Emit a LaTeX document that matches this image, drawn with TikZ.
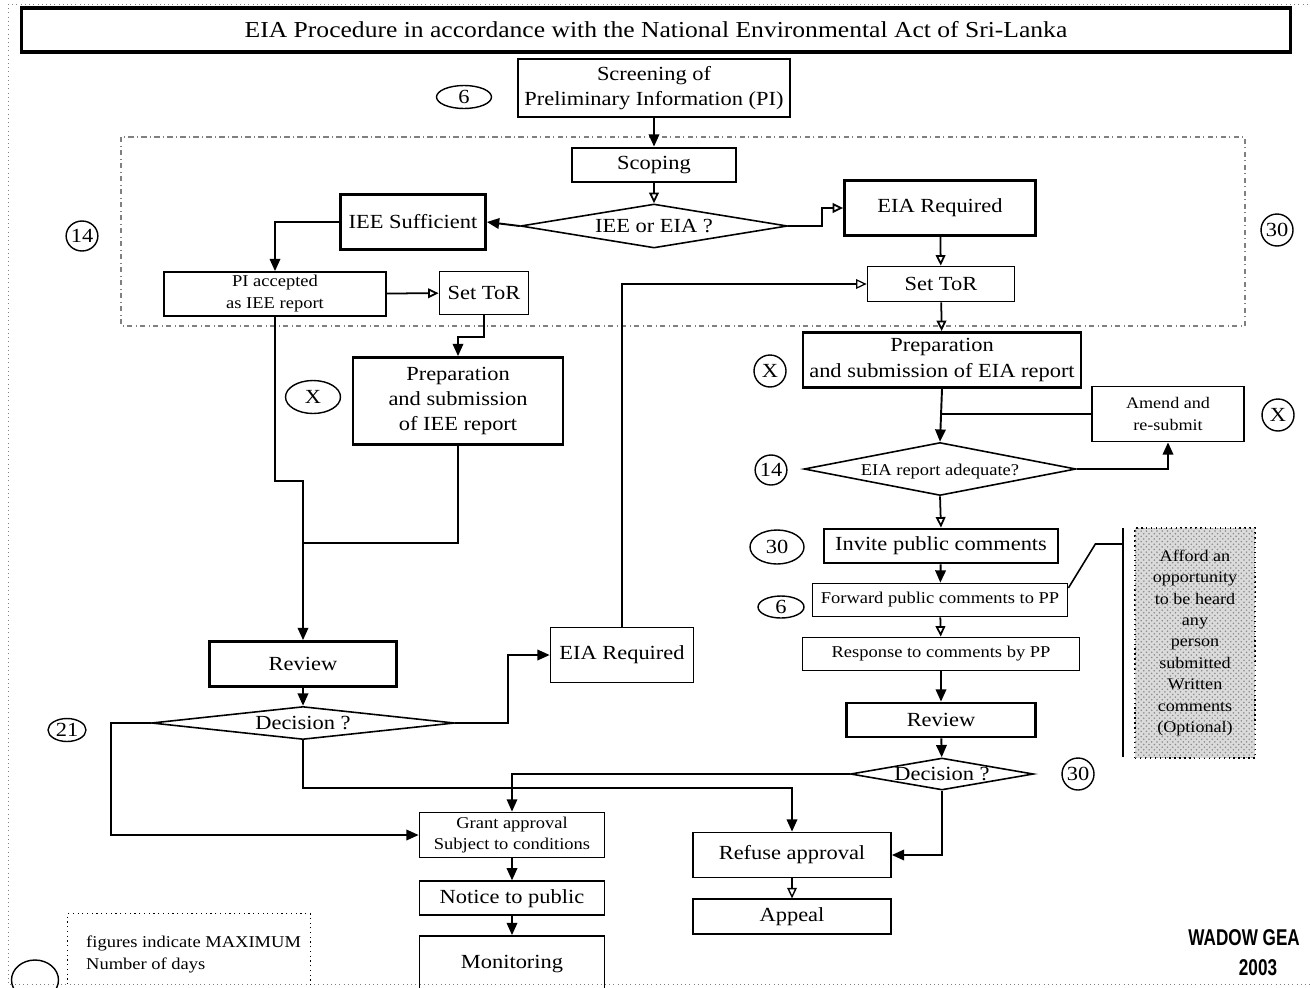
\documentclass[tikz,border=0pt]{standalone}
\usepackage{fontspec}
\setmainfont{Liberation Serif}[FakeStretch=1.12]
\newfontfamily\stampfont{Liberation Sans}[FakeStretch=0.75]
\usetikzlibrary{arrows.meta,shapes.geometric,positioning,patterns}

\tikzset{
  procbox/.style={draw, line width=1pt, inner sep=1pt, align=center, font=\fontsize{11.4}{14.5}\selectfont},
  mainbox/.style={procbox, line width=1.6pt},
  smallbox/.style={procbox, font=\fontsize{9.4}{12.5}\selectfont},
  decide/.style={diamond, draw, line width=.9pt, inner sep=0pt, align=center,
    text height=.7em, text depth=0pt, font=\fontsize{11.4}{13}\selectfont},
  days/.style={ellipse, draw, line width=.8pt, inner sep=0pt, font=\fontsize{11.4}{13}\selectfont},
  flow/.style={line width=1.1pt, -{Triangle[length=7pt,width=6pt]}},
  flowopen/.style={line width=1pt, -{Triangle[open,length=6pt,width=5.5pt]}},
  joinline/.style={line width=1.1pt},
}

\begin{document}
\begin{tikzpicture}[x=0.02cm, y=-0.02cm]
\useasboundingbox (0,0) rectangle (1310,987);
\draw[dotted, gray] (8,4) rectangle (1318,984);

% heading
\node[draw, line width=1.8pt, minimum width=25.4cm, minimum height=0.88cm, font=\fontsize{13}{15}\selectfont] (title) at (656,30) {EIA Procedure in accordance with the National Environmental Act of Sri-Lanka};

% screening and scoping
\node[mainbox, minimum width=5.44cm, minimum height=1.16cm] (screen) at (654,88) {Screening of\\Preliminary Information (PI)};
\node[days, minimum width=1.1cm, minimum height=0.46cm] (d6a) at (464,97) {6};
\draw[dash dot, gray, line width=.6pt] (121,137) rectangle (1245,326);
\node[mainbox, minimum width=3.28cm, minimum height=0.68cm] (scoping) at (654,165) {Scoping};
\node[decide, aspect=6.07, minimum width=5.34cm, minimum height=0.88cm] (ieeoreia) at (654,226) {IEE or EIA ?};
\node[mainbox, minimum width=2.9cm, minimum height=1.1cm] (ieesuff) at (413,222) {IEE Sufficient};
\node[mainbox, minimum width=3.82cm, minimum height=1.1cm] (eiareq) at (940,208) {EIA Required};
\node[days, minimum width=0.6cm, minimum height=0.6cm] (d14a) at (82,236) {14};
\node[days, minimum width=0.64cm, minimum height=0.64cm] (d30a) at (1277,230) {30};

% IEE branch
\node[smallbox, minimum width=4.44cm, minimum height=0.88cm] (piacc) at (275,294) {PI accepted\\as IEE report};
\node[procbox, minimum width=1.78cm, minimum height=0.86cm] (torA) at (484,293) {Set ToR};
\node[mainbox, minimum width=4.2cm, minimum height=1.74cm] (prepiee) at (458,401) {Preparation\\and submission\\of IEE report};
\node[days, minimum width=1.1cm, minimum height=0.66cm] (dxa) at (313,397) {X};

% EIA branch
\node[procbox, minimum width=2.94cm, minimum height=0.7cm] (torB) at (941,284) {Set ToR};
\node[mainbox, minimum width=5.56cm, minimum height=1.1cm] (prepeia) at (942,360) {Preparation\\and submission of EIA report};
\node[days, minimum width=0.64cm, minimum height=0.64cm] (dxb) at (770,371) {X};
\node[procbox, font=\fontsize{9.2}{13}\selectfont, minimum width=3.04cm, minimum height=1.1cm] (amend) at (1168,414) {Amend and\\re-submit};
\node[days, minimum width=0.64cm, minimum height=0.64cm] (dxc) at (1278,415) {X};
\node[decide, aspect=5.13, font=\fontsize{9.4}{12}\selectfont, minimum width=5.44cm, minimum height=1.06cm] (adequate) at (940,469) {EIA report adequate?};
\node[days, minimum width=0.6cm, minimum height=0.6cm] (d14b) at (771,470) {14};
\node[mainbox, minimum width=4.68cm, minimum height=0.68cm] (invite) at (941,546) {Invite public comments};
\node[days, minimum width=1.08cm, minimum height=0.68cm] (d30b) at (777,547) {30};
\node[smallbox, minimum width=5.1cm, minimum height=0.66cm] (forward) at (940,600) {Forward public comments to PP};
\node[days, minimum width=0.92cm, minimum height=0.44cm] (d6b) at (781,607) {6};
\node[smallbox, minimum width=5.54cm, minimum height=0.66cm] (response) at (941,654) {Response to comments by PP};
\node[mainbox, minimum width=3.78cm, minimum height=0.68cm] (reviewB) at (941,720) {Review};
\node[decide, aspect=5.72, minimum width=3.66cm, minimum height=0.64cm] (decisionB) at (942,774) {Decision ?};
\node[days, minimum width=0.64cm, minimum height=0.64cm] (d30c) at (1078,774) {30};
\node[draw, dotted, line width=.8pt, fill=gray!28, postaction={pattern=crosshatch dots, pattern color=gray!90},
      minimum width=2.4cm, minimum height=4.6cm, align=center, font=\fontsize{9.2}{12.2}\selectfont] (afford) at (1195,643)
      {Afford an\\opportunity\\to be heard\\any\\person\\submitted\\Written\\comments\\(Optional)};
\coordinate (bartop) at (1123,528);
\coordinate (barmid) at (1123,544);
\coordinate (barbot) at (1123,757);

% review of IEE
\node[mainbox, minimum width=3.74cm, minimum height=0.9cm] (reviewA) at (303,664) {Review};
\node[decide, aspect=9.18, minimum width=6.06cm, minimum height=0.66cm] (decisionA) at (303,723) {Decision ?};
\node[days, minimum width=0.76cm, minimum height=0.46cm] (d21) at (67,730) {21};
\node[procbox, minimum width=2.86cm, minimum height=1.1cm] (eiareqB) at (622,655) {EIA Required};
\coordinate (ieejoin) at (303,543);

% outcomes
\node[smallbox, minimum width=3.7cm, minimum height=0.9cm] (grant) at (512,835) {Grant approval\\Subject to conditions};
\node[procbox, minimum width=3.7cm, minimum height=0.68cm, below=0.44cm of grant] (notice) {Notice to public};
\node[procbox, minimum width=3.7cm, minimum height=1.14cm, below=0.38cm of notice] (monitor) {Monitoring};
\node[procbox, minimum width=3.96cm, minimum height=0.9cm] (refuse) at (792,855) {Refuse approval};
\node[procbox, minimum width=3.96cm, minimum height=0.7cm, below=0.4cm of refuse] (appeal) {Appeal};

% legend
\node[draw, dotted, line width=.7pt, minimum width=4.86cm, minimum height=1.7cm, anchor=north west] (legend) at (67,913) {};
\node[anchor=west, align=left, font=\fontsize{9.4}{12.5}\selectfont] (legendtext) at (80,954) {figures indicate MAXIMUM\\Number of days};
\node[days, minimum width=0.94cm, minimum height=0.8cm] (blank) at (35,980) {};
\node[anchor=east, font=\stampfont\bfseries\fontsize{13}{16}\selectfont] (stamp) at (1306,938) {WADOW GEA};
\node[font=\stampfont\bfseries\fontsize{13}{16}\selectfont] (stampyear) at (1258,968) {2003};

% connectors
\draw[flow] (screen) -- (scoping);
\draw[flowopen] (scoping) -- (ieeoreia);
\draw[flow] (ieeoreia.west) -- (ieesuff.east);
\draw[flowopen] (ieeoreia.east) -- ++(34,0) |- (eiareq.west);
\draw[flow] (ieesuff.west) -| (piacc.north);
\draw[flowopen] (piacc) -- (torA);
\draw[flow] (torA.south) -- ++(0,22) -| (prepiee.north);
\draw[flowopen] (eiareq) -- (torB);
\draw[flowopen] (torB) -- (prepeia);
\draw[flow] (prepeia.south) -- (adequate.north);
\draw[joinline] (amend.west) -- (prepeia.south |- amend.west);
\draw[flow] (adequate.east) -| (amend.south);
\draw[flowopen] (adequate.south) -- (invite.north);
\draw[flow] (invite) -- (forward);
\draw[flowopen] (forward) -- (response);
\draw[flow] (response) -- (reviewB);
\draw[flow] (reviewB) -- (decisionB);
\draw[line width=1pt] (bartop) -- (barbot);
\draw[line width=.9pt] ([yshift=0.24cm]forward.east) -- ++(27,-44) -- (barmid);
\draw[flow, line width=.8pt] (decisionB.west) -| (grant.north);
\draw[flow] (decisionB.south) |- (refuse.east);
\draw[flowopen, line width=.8pt] (refuse) -- (appeal);
\draw[flow] (grant) -- (notice);
\draw[flow] (notice) -- (monitor);
\draw[flow] (piacc.south) -- ++(0,164) -| (reviewA.north);
\draw[joinline] (prepiee.south) |- (ieejoin);
\draw[flow] (reviewA) -- (decisionA);
\draw[flow] (decisionA.east) -- ++(53,0) |- (eiareqB.west);
\draw[flowopen, line width=.7pt] (eiareqB.north) |- (torB.west);
\draw[flow] (decisionA.west) -- ++(-40,0) |- (grant.west);
\draw[flow] (decisionA.south) -- ++(0,48) -| (refuse.north);
\end{tikzpicture}
\end{document}
